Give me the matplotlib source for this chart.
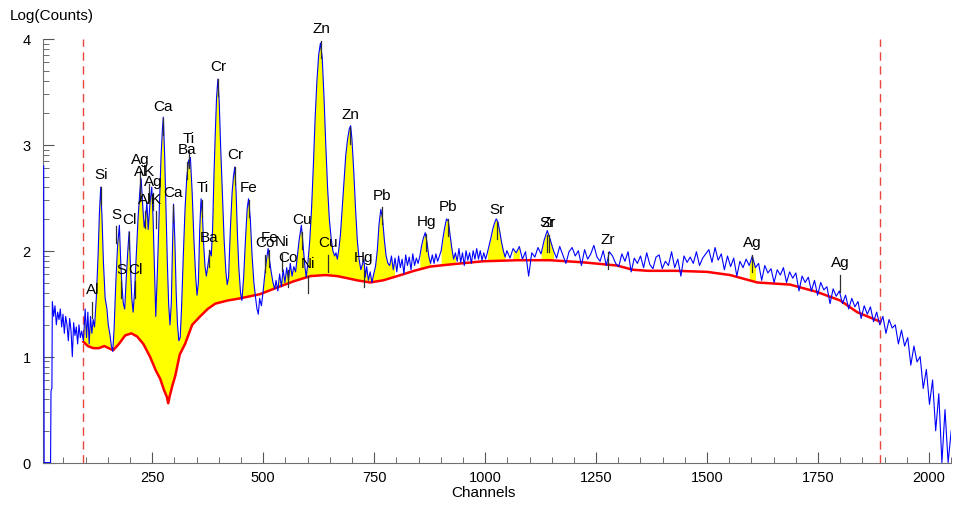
import numpy as np
import matplotlib.pyplot as plt
from matplotlib.ticker import MultipleLocator, FixedLocator

plt.rcParams['font.family'] = ['Liberation Sans', 'DejaVu Sans']

# spectrum (channel, log10 counts)
left_ch = [5.5, 6.5, 21, 22, 24, 25, 28, 31, 34, 37, 40, 43, 46, 49, 52, 55, 58, 61,
           64, 67, 70, 73, 76, 79, 82, 85, 88, 91]
left_logc = [2.8, 0.0, 0.0, 0.68, 0.70, 1.52, 1.38, 1.48, 1.30, 1.42, 1.35, 1.45, 1.28, 1.40,
             1.22, 1.38, 1.30, 1.15, 1.36, 1.25, 1.00, 1.32, 1.20, 1.28, 1.12, 1.30, 1.18, 1.24]

main_ch = [95, 99, 102, 105, 108, 111, 114, 117, 120, 124,
           128, 131, 134, 137, 140, 144, 148, 151, 155, 158,
           161, 164, 168, 172, 176, 179, 182, 185, 188, 191,
           195, 198, 201, 204, 207, 210, 214, 218, 222, 225,
           229, 232, 235, 238, 241, 245, 249, 252, 255, 258,
           262, 266, 270, 273, 275, 278, 281, 284, 287, 290,
           293, 296, 298, 301, 304, 307, 310, 313, 316, 320,
           324, 328, 332, 336, 340, 344, 348, 351, 354, 357,
           360, 363, 366, 369, 372, 376, 380, 383, 386, 389,
           392, 395, 398, 401, 404, 408, 412, 416, 419, 422,
           426, 430, 433, 436, 439, 442, 445, 449, 452, 456,
           460, 464, 467, 471, 475, 479, 483, 486, 489, 492,
           496, 500, 503, 507, 511, 514, 518, 522, 526, 529,
           533, 537, 541, 545, 549, 553, 557, 561, 565, 569,
           573, 577, 581, 586, 590, 594, 597, 601, 605, 609,
           613, 617, 621, 625, 629, 633, 637, 641, 645, 649,
           653, 657, 661, 664, 667, 670, 674, 678, 682, 686,
           690, 694, 697, 700, 704, 708, 712, 716, 720, 724,
           727, 730, 733, 737, 741, 745, 749, 753, 757, 761,
           765, 769, 773, 777, 781, 785, 789, 793, 797, 801,
           805, 809, 813, 817, 821, 825, 829, 833, 837, 841,
           845, 849, 853, 857, 861, 865, 869, 873, 877, 881,
           885, 889, 893, 897, 901, 905, 909, 913, 917, 921,
           925, 929, 933, 937, 941, 945, 949, 953, 957, 961,
           965, 969, 973, 977, 981, 985, 989, 993, 997, 1001,
           1005, 1009, 1013, 1017, 1021, 1025, 1029, 1033, 1037, 1041,
           1045]
main_logc = [1.15, 1.45, 1.18, 1.42, 1.12, 1.38, 1.22, 1.35, 1.28, 1.55,
             1.95, 2.35, 2.60, 2.30, 1.90, 1.55, 1.45, 1.30, 1.20, 1.10,
             1.05, 1.25, 1.70, 2.05, 2.24, 1.90, 1.65, 1.50, 1.45, 1.70,
             2.00, 2.18, 1.85, 1.55, 1.42, 1.60, 1.95, 2.30, 2.55, 2.68,
             2.40, 2.22, 2.30, 2.46, 2.20, 2.45, 2.60, 2.30, 1.85, 1.38,
             1.85, 2.40, 2.90, 3.15, 3.26, 2.90, 2.40, 1.90, 1.50, 1.30,
             1.50, 2.10, 2.44, 2.10, 1.60, 1.30, 1.15, 1.18, 1.45, 1.95,
             2.40, 2.70, 2.85, 2.88, 2.55, 2.10, 1.75, 1.58, 1.70, 2.20,
             2.49, 2.35, 2.05, 1.85, 1.76, 1.88, 2.00, 1.95, 2.20, 2.70,
             3.10, 3.45, 3.62, 3.40, 3.00, 2.55, 2.10, 1.80, 1.68, 1.75,
             2.20, 2.55, 2.70, 2.79, 2.55, 2.15, 1.85, 1.60, 1.53, 1.75,
             2.10, 2.40, 2.49, 2.30, 1.95, 1.70, 1.55, 1.45, 1.40, 1.55,
             1.48, 1.62, 1.75, 1.90, 2.02, 1.92, 1.80, 1.70, 1.64, 1.72,
             1.62, 1.78, 1.66, 1.82, 1.70, 1.84, 1.72, 1.88, 1.76, 1.85,
             1.80, 1.95, 2.10, 2.24, 2.05, 1.85, 1.75, 1.90, 2.10, 2.40,
             2.80, 3.25, 3.60, 3.85, 3.96, 3.82, 3.45, 3.00, 2.60, 2.30,
             2.12, 2.00, 1.95, 1.98, 1.92, 2.00, 2.15, 2.40, 2.65, 2.90,
             3.05, 3.15, 3.18, 3.05, 2.75, 2.40, 2.10, 1.92, 1.82, 1.88,
             1.92, 1.75, 1.85, 1.72, 1.80, 1.70, 1.78, 1.85, 2.00, 2.25,
             2.39, 2.30, 2.10, 1.95, 1.88, 1.86, 1.95, 1.82, 1.93, 1.80,
             1.95, 1.84, 1.92, 1.78, 1.96, 1.86, 1.94, 1.82, 1.97, 1.86,
             1.93, 1.88, 1.95, 2.05, 2.12, 2.17, 2.08, 1.95, 1.88, 1.96,
             1.88, 1.97, 1.90, 1.95, 2.00, 2.12, 2.22, 2.30, 2.28, 2.15,
             2.02, 1.92, 1.98, 1.90, 2.02, 1.89, 1.98, 1.86, 2.00, 1.91,
             1.98, 1.88, 2.00, 1.92, 2.02, 1.92, 2.00, 1.91, 1.98, 1.92,
             1.98, 2.05, 2.12, 2.20, 2.26, 2.30, 2.27, 2.18, 2.08, 2.00,
             1.94]

# high channels, one reading every 7 channels from 1049 on
tail_first, tail_step = 1049, 7
tail_logc = [2.00, 1.93, 2.02, 1.98, 2.04, 1.92, 1.99, 1.76, 1.98, 1.94,
             2.03, 1.97, 2.10, 2.19, 2.10, 2.00, 1.93, 2.04, 1.96, 1.88,
             1.99, 2.03, 1.95, 2.00, 1.86, 2.01, 1.92, 1.97, 2.05, 1.94,
             1.90, 2.00, 1.86, 1.99, 1.95, 1.88, 1.85, 1.97, 1.90, 1.99,
             1.80, 1.93, 1.88, 1.95, 1.84, 1.98, 1.87, 1.83, 1.94, 1.96,
             1.83, 1.90, 1.86, 1.99, 1.84, 1.92, 1.76, 1.95, 1.89, 1.94,
             1.88, 1.99, 1.86, 1.93, 1.97, 2.01, 1.89, 2.03, 1.91, 1.97,
             1.82, 1.95, 1.85, 1.93, 1.76, 1.90, 1.84, 1.92, 1.86, 1.95,
             1.84, 1.88, 1.72, 1.86, 1.79, 1.83, 1.70, 1.82, 1.77, 1.84,
             1.70, 1.80, 1.74, 1.79, 1.62, 1.76, 1.70, 1.75, 1.62, 1.72,
             1.58, 1.70, 1.63, 1.66, 1.50, 1.64, 1.57, 1.62, 1.50, 1.58,
             1.45, 1.55, 1.47, 1.52, 1.36, 1.48, 1.40, 1.47, 1.33, 1.42,
             1.30, 1.38, 1.22, 1.35, 1.27, 1.30, 1.12, 1.25, 1.10, 1.18,
             0.92, 1.10, 0.95, 1.00, 0.70, 0.88, 0.55, 0.78, 0.30, 0.65,
             0.00, 0.50, 0.00, 0.30]

# fitted background (red)
bg_ch = [95, 105, 117, 130, 142, 152, 162, 175, 189, 203,
         216, 230, 245, 258, 268, 277, 283, 286, 289, 295,
         302, 312, 324, 340, 358, 375, 392, 420, 448, 493,
         530, 568, 606, 640, 667, 690, 712, 741, 770, 802,
         840, 876, 921, 995, 1072, 1146, 1221, 1297, 1333, 1367,
         1430, 1500, 1552, 1613, 1650, 1687, 1748, 1800, 1838, 1890]
bg_logc = [1.14, 1.10, 1.08, 1.08, 1.10, 1.08, 1.06, 1.12, 1.20, 1.22,
           1.19, 1.12, 1.00, 0.87, 0.79, 0.68, 0.62, 0.56, 0.62, 0.72,
           0.82, 1.02, 1.12, 1.30, 1.38, 1.45, 1.50, 1.53, 1.55, 1.59,
           1.65, 1.71, 1.76, 1.77, 1.76, 1.74, 1.72, 1.70, 1.72, 1.76,
           1.81, 1.85, 1.87, 1.90, 1.91, 1.91, 1.89, 1.86, 1.82, 1.81,
           1.81, 1.80, 1.77, 1.70, 1.69, 1.68, 1.61, 1.53, 1.42, 1.33]

roi = [95, 1890]
peak_windows = [(95, 800), (851, 880), (899, 933), (1003, 1047),
                (1063, 1080), (1124, 1158), (1592, 1610)]

label_txt = ['Al', 'Si', 'S', 'Cl', 'S', 'Cl', 'Ag', 'Al', 'K', 'Ag', 'Al', 'K',
             'Ca', 'Ca', 'Ti', 'Ba', 'Ti', 'Ba', 'Cr', 'Cr', 'Fe', 'Fe', 'Co', 'Ni',
             'Co', 'Ni', 'Cu', 'Cu', 'Zn', 'Zn', 'Hg', 'Pb', 'Hg', 'Pb', 'Sr', 'Sr',
             'Zr', 'Zr', 'Ag', 'Ag']
label_ch = [115, 135, 169, 198, 180, 212, 223, 223, 243, 252, 234, 259,
            275, 297, 333, 329, 363, 378, 399, 437, 468, 514, 505, 543,
            556, 601, 588, 646, 631, 696, 727, 768, 867, 917, 1027, 1140,
            1144, 1277, 1601, 1800]
label_y = [1.64, 2.72, 2.35, 2.30, 1.83, 1.83, 2.87, 2.75, 2.75, 2.66, 2.49, 2.49,
           3.37, 2.55, 3.06, 2.96, 2.60, 2.13, 3.74, 2.91, 2.60, 2.13, 2.08, 2.09,
           1.94, 1.88, 2.30, 2.08, 4.10, 3.29, 1.94, 2.53, 2.28, 2.42, 2.39, 2.27,
           2.27, 2.11, 2.08, 1.89]

tail_ch = tail_first + tail_step * np.arange(len(tail_logc))
spec_ch = np.concatenate([left_ch, main_ch, tail_ch]).astype(float)
spec = np.concatenate([left_logc, main_logc, tail_logc])

fig = plt.figure(figsize=(9.56, 5.1), dpi=100)
ax = fig.add_axes([0.045, 0.091, 0.950, 0.831])

# yellow peak areas between spectrum and background
bg_under = np.interp(spec_ch, bg_ch, bg_logc)
for lo, hi in peak_windows:
    m = (spec_ch >= lo) & (spec_ch <= hi)
    ax.fill_between(spec_ch[m], bg_under[m], spec[m], where=spec[m] > bg_under[m],
                    interpolate=True, color='#ffff00', lw=0, zorder=1)

ax.plot(bg_ch, bg_logc, color='#ff0000', lw=1.8, zorder=2)
ax.plot(spec_ch, spec, color='#0000ff', lw=0.8, zorder=3)

for x in roi:
    ax.axvline(x, color='#e8453f', lw=1, ls=(0, (6, 4)), zorder=2)

for t, c, y in zip(label_txt, label_ch, label_y):
    ax.plot([c, c], [y - 0.12, y - 0.28], color='#303030', lw=0.9, zorder=4)
    ax.text(c, y, t, ha='center', va='center', fontsize=11, zorder=5)

ax.set_xlim(4, 2050)
ax.set_ylim(0, 4)
ax.xaxis.set_major_locator(MultipleLocator(250))
ax.xaxis.set_minor_locator(MultipleLocator(50))
ax.yaxis.set_major_locator(MultipleLocator(1))
ax.yaxis.set_minor_locator(FixedLocator([n + np.log10(k) for n in range(4) for k in range(2, 10)]))
ax.tick_params(which='both', direction='in', color='#555555', labelsize=10.5)
ax.tick_params(which='major', length=8)
ax.tick_params(which='minor', length=4)
ax.tick_params(axis='y', pad=9)
ax.tick_params(axis='x', pad=5)
for s in ['top', 'right']:
    ax.spines[s].set_visible(False)
for s in ['left', 'bottom']:
    ax.spines[s].set_color('#707070')

fig.text(10 / 956, 1 - 16 / 510, 'Log(Counts)', fontsize=11, va='center', ha='left')
fig.text(483 / 956, 1 - 493 / 510, 'Channels', fontsize=11, va='center', ha='center')

fig.savefig('out.png', dpi=100)
